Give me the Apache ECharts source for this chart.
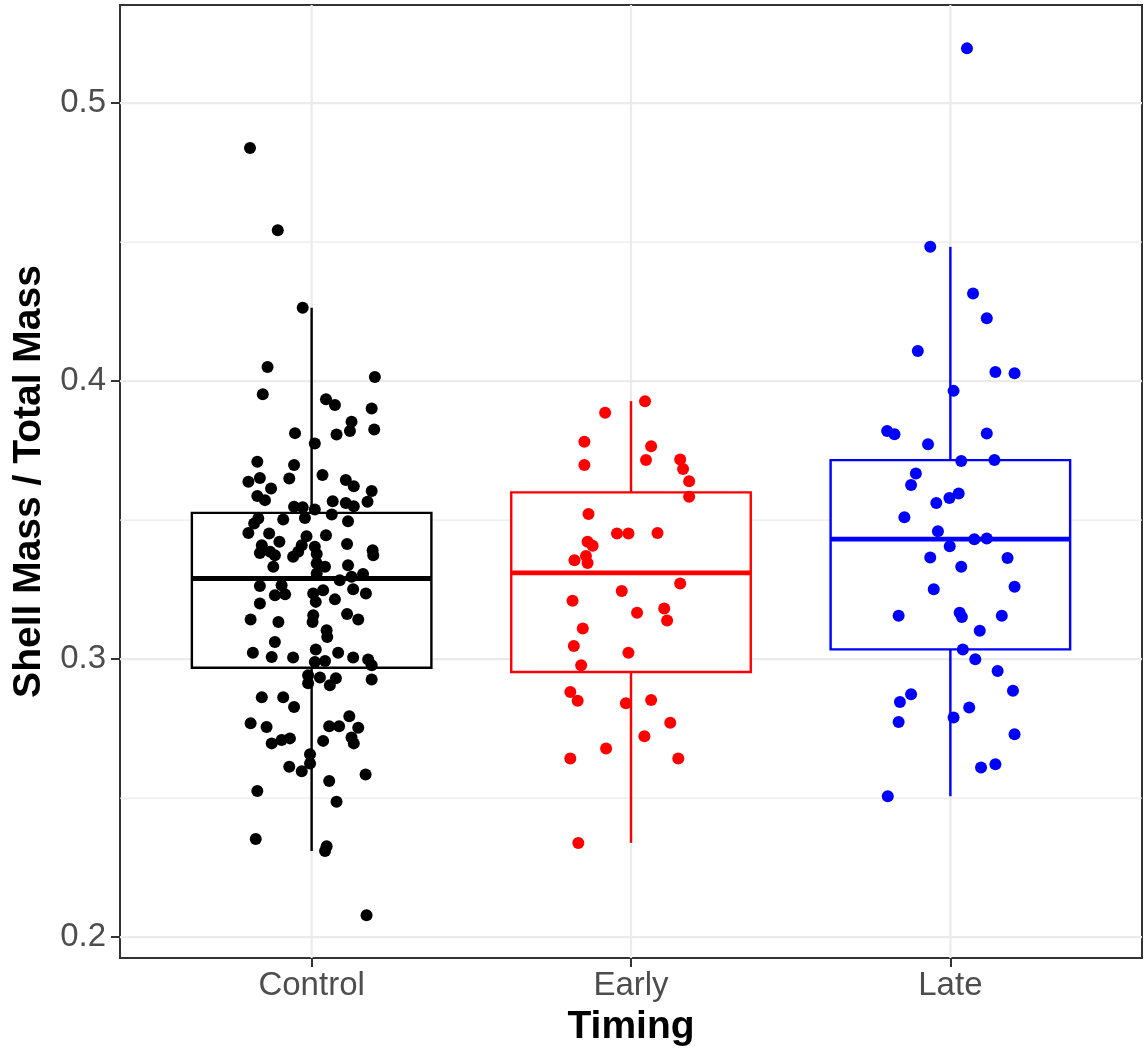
<!DOCTYPE html>
<html><head><meta charset="utf-8">
<script src="https://cdn.jsdelivr.net/npm/echarts@6/dist/echarts.min.js"></script>
<style>html,body{margin:0;padding:0;background:#fff}#chart{width:1144px;height:1053px}</style>
</head><body><div id="chart"></div>
<script>
const categories = ['Control', 'Early', 'Late'];
const colors = ['#000000', '#FF0000', '#0000FF'];
const yMajorTicks = [0.2, 0.3, 0.4, 0.5];
const yMinorTicks = [0.25, 0.35, 0.45];
// box stats: [lower whisker, q1, median, q3, upper whisker]
const controlBox = [0.2310, 0.2969, 0.3290, 0.3526, 0.4264];
const earlyBox = [0.2339, 0.2954, 0.3310, 0.3600, 0.3928];
const lateBox = [0.2507, 0.3035, 0.3432, 0.3716, 0.4483];

const controlY = [0.4839,0.4543,0.4264,0.4051,0.4015,0.3953,0.3935,0.3914,0.3902,0.3854,
0.3821,0.3826,0.3813,0.3808,0.3776,0.3710,0.3698,0.3662,0.3638,0.3652,
0.3650,0.3644,0.3622,0.3614,0.3587,0.3572,0.3605,0.3566,0.3568,0.3562,
0.3550,0.3548,0.3546,0.3538,0.3520,0.3506,0.3488,0.3502,0.3508,0.3496,
0.3454,0.3452,0.3422,0.3442,0.3446,0.3414,0.3410,0.3382,0.3386,0.3374,
0.3410,0.3386,0.3368,0.3404,0.3378,0.3392,0.3374,0.3332,0.3344,0.3332,
0.3338,0.3308,0.3263,0.3266,0.3230,0.3233,0.3236,0.3248,0.3284,0.3296,
0.3306,0.3251,0.3236,0.3206,0.3215,0.3200,0.3143,0.3134,0.3158,0.3134,
0.3162,0.3143,0.3104,0.3080,0.3062,0.3023,0.3008,0.3006,0.3035,0.3023,
0.3006,0.2999,0.2978,0.2990,0.2993,0.2942,0.2934,0.2931,0.2906,0.2913,
0.2927,0.2863,0.2863,0.2828,0.2769,0.2756,0.2697,0.2709,0.2715,0.2759,
0.2759,0.2795,0.2753,0.2718,0.2697,0.2706,0.2658,0.2625,0.2613,0.2597,
0.2585,0.2562,0.2526,0.2487,0.2353,0.2327,0.2310,0.2079];
const controlJitter = [-0.193,-0.106,-0.028,-0.138,0.198,-0.153,0.045,0.073,0.188,0.125,
0.120,0.196,-0.052,0.078,0.010,-0.170,-0.055,0.034,-0.198,-0.162,
-0.070,0.107,0.132,-0.127,-0.170,-0.146,0.188,0.175,0.066,0.107,
0.132,-0.055,-0.028,0.010,0.063,-0.167,-0.180,-0.089,-0.021,0.114,
-0.198,-0.133,-0.101,-0.016,0.045,0.111,-0.156,-0.162,-0.130,-0.115,
-0.031,-0.042,-0.058,0.010,0.016,0.191,0.193,-0.120,0.016,0.042,
0.114,0.016,-0.162,-0.094,-0.115,-0.083,0.005,0.036,0.088,0.125,
0.161,0.130,0.170,0.013,0.073,-0.162,-0.191,-0.104,0.005,0.003,
0.111,0.146,0.047,0.049,-0.115,-0.184,-0.125,-0.058,0.013,0.083,
0.130,0.177,0.188,0.010,0.042,-0.011,0.026,0.076,0.057,-0.011,
0.188,-0.156,-0.089,-0.055,-0.191,-0.141,-0.125,-0.094,-0.068,0.055,
0.086,0.118,0.146,0.125,0.132,0.036,-0.005,-0.005,-0.070,-0.031,
0.169,0.055,-0.170,0.078,-0.175,0.047,0.042,0.172];

const earlyY = [0.3928,0.3886,0.3782,0.3766,0.3716,0.3698,0.3718,0.3684,0.3640,0.3584,
0.3522,0.3452,0.3452,0.3454,0.3422,0.3408,0.3356,0.3371,0.3346,0.3272,
0.3210,0.3245,0.3167,0.3182,0.3139,0.3110,0.3047,0.3023,0.2978,0.2882,
0.2850,0.2841,0.2853,0.2771,0.2723,0.2679,0.2643,0.2643,0.2339];
const earlyJitter = [0.044,-0.081,-0.146,0.063,0.047,-0.146,0.154,0.163,0.182,0.182,
-0.133,-0.044,-0.008,0.083,-0.136,-0.120,-0.177,-0.141,-0.136,0.154,
-0.183,-0.029,0.019,0.104,0.113,-0.151,-0.179,-0.008,-0.156,-0.190,
-0.167,-0.016,0.063,0.123,0.042,-0.078,-0.190,0.148,-0.165];

const lateY = [0.5197,0.4483,0.4315,0.4226,0.4108,0.4033,0.4028,0.3965,0.3821,0.3809,
0.3773,0.3812,0.3713,0.3716,0.3668,0.3626,0.3596,0.3580,0.3562,0.3510,
0.3460,0.3406,0.3431,0.3434,0.3366,0.3364,0.3332,0.3251,0.3260,0.3156,
0.3167,0.3152,0.3156,0.3102,0.3035,0.3000,0.2957,0.2886,0.2874,0.2846,
0.2774,0.2826,0.2790,0.2730,0.2610,0.2622,0.2507];
const lateJitter = [0.052,-0.063,0.071,0.114,-0.102,0.141,0.201,0.010,-0.198,-0.175,
-0.070,0.114,0.034,0.138,-0.108,-0.123,0.026,-0.003,-0.044,-0.144,
-0.039,-0.002,0.075,0.114,-0.063,0.179,0.034,-0.052,0.201,-0.162,
0.029,0.036,0.161,0.092,0.039,0.078,0.148,0.196,-0.123,-0.158,
-0.162,0.059,0.010,0.201,0.096,0.141,-0.196];

const FONT = '"Liberation Sans", Arial, Helvetica, sans-serif';
const catIdx = [1, 2, 3];
const boxes = [controlBox, earlyBox, lateBox];
const groupsY = [controlY, earlyY, lateY];
const groupsJ = [controlJitter, earlyJitter, lateJitter];

const chart = echarts.init(document.getElementById('chart'), null, {renderer: 'canvas'});

// [x, y, lineWidth, isVertical]
const gridData = yMajorTicks.map(v => [2, v, 2.2, 0])
  .concat(yMinorTicks.map(v => [2, v, 1.1, 0]))
  .concat(catIdx.map(c => [c, 0.3, 2.2, 1]));

const pointSeries = catIdx.map((c, i) => ({
  type: 'scatter',
  name: categories[i],
  z: 5,
  symbol: 'circle',
  symbolSize: 12,
  itemStyle: {color: colors[i], opacity: 1},
  silent: true,
  data: groupsY[i].map((y, k) => [c + groupsJ[i][k], y])
}));

const option = {
  animation: false,
  backgroundColor: '#ffffff',
  grid: {left: 120, right: 2, top: 5, bottom: 95, show: true, borderColor: '#333333', borderWidth: 2, backgroundColor: 'transparent'},
  xAxis: {
    type: 'value', min: 0.4, max: 3.6,
    axisLine: {show: false},
    splitLine: {show: false},
    axisTick: {show: true, customValues: catIdx, length: 9, lineStyle: {color: '#333333', width: 2}},
    axisLabel: {customValues: catIdx, formatter: v => categories[Math.round(v) - 1] || '', color: '#4D4D4D', fontSize: 33, fontFamily: FONT, margin: 11},
    name: 'Timing', nameLocation: 'middle', nameGap: 50,
    nameTextStyle: {color: '#000', fontSize: 39, fontWeight: 'bold', fontFamily: FONT}
  },
  yAxis: {
    type: 'value', min: 0.1925, max: 0.5353,
    axisLine: {show: false},
    splitLine: {show: false},
    axisTick: {show: true, customValues: yMajorTicks, length: 9, lineStyle: {color: '#333333', width: 2}},
    axisLabel: {customValues: yMajorTicks, formatter: v => v.toFixed(1), color: '#4D4D4D', fontSize: 33, fontFamily: FONT, margin: 14},
    name: 'Shell Mass / Total Mass', nameLocation: 'middle', nameGap: 70, nameRotate: 90,
    nameTextStyle: {color: '#000', fontSize: 39, fontWeight: 'bold', fontFamily: FONT}
  },
  series: [
    {
      type: 'custom', z: 1, silent: true, clip: false,
      data: gridData,
      encode: {x: 0, y: 1},
      dimensions: ['x', 'y', 'w', 'v'],
      renderItem: function (params, api) {
        const cs = params.coordSys;
        const isV = api.value(3) === 1;
        const w = api.value(2);
        const p = api.coord([api.value(0), api.value(1)]);
        if (isV) {
          return {type: 'line', shape: {x1: p[0], y1: cs.y, x2: p[0], y2: cs.y + cs.height}, style: {stroke: '#EBEBEB', lineWidth: w}};
        }
        return {type: 'line', shape: {x1: cs.x, y1: p[1], x2: cs.x + cs.width, y2: p[1]}, style: {stroke: '#EBEBEB', lineWidth: w}};
      }
    },
    {
      type: 'custom', z: 3, silent: true,
      data: catIdx.map((c, i) => [c].concat(boxes[i])),
      encode: {x: 0, y: [1, 2, 3, 4, 5]},
      renderItem: function (params, api) {
        const c = api.value(0);
        const pLo = api.coord([c, api.value(1)]);
        const pQ1 = api.coord([c, api.value(2)]);
        const pMed = api.coord([c, api.value(3)]);
        const pQ3 = api.coord([c, api.value(4)]);
        const pHi = api.coord([c, api.value(5)]);
        const half = Math.abs(api.size([0.375, 0])[0]);
        const col = colors[params.dataIndex];
        const lw = 2.4;
        return {type: 'group', children: [
          {type: 'line', shape: {x1: pLo[0], y1: pLo[1], x2: pQ1[0], y2: pQ1[1]}, style: {stroke: col, lineWidth: lw}},
          {type: 'line', shape: {x1: pQ3[0], y1: pQ3[1], x2: pHi[0], y2: pHi[1]}, style: {stroke: col, lineWidth: lw}},
          {type: 'rect', shape: {x: pQ3[0] - half, y: pQ3[1], width: 2 * half, height: pQ1[1] - pQ3[1]}, style: {fill: '#ffffff', stroke: col, lineWidth: lw}},
          {type: 'line', shape: {x1: pMed[0] - half, y1: pMed[1], x2: pMed[0] + half, y2: pMed[1]}, style: {stroke: col, lineWidth: 4.8}}
        ]};
      }
    }
  ].concat(pointSeries)
};
chart.setOption(option);
</script>
</body></html>
